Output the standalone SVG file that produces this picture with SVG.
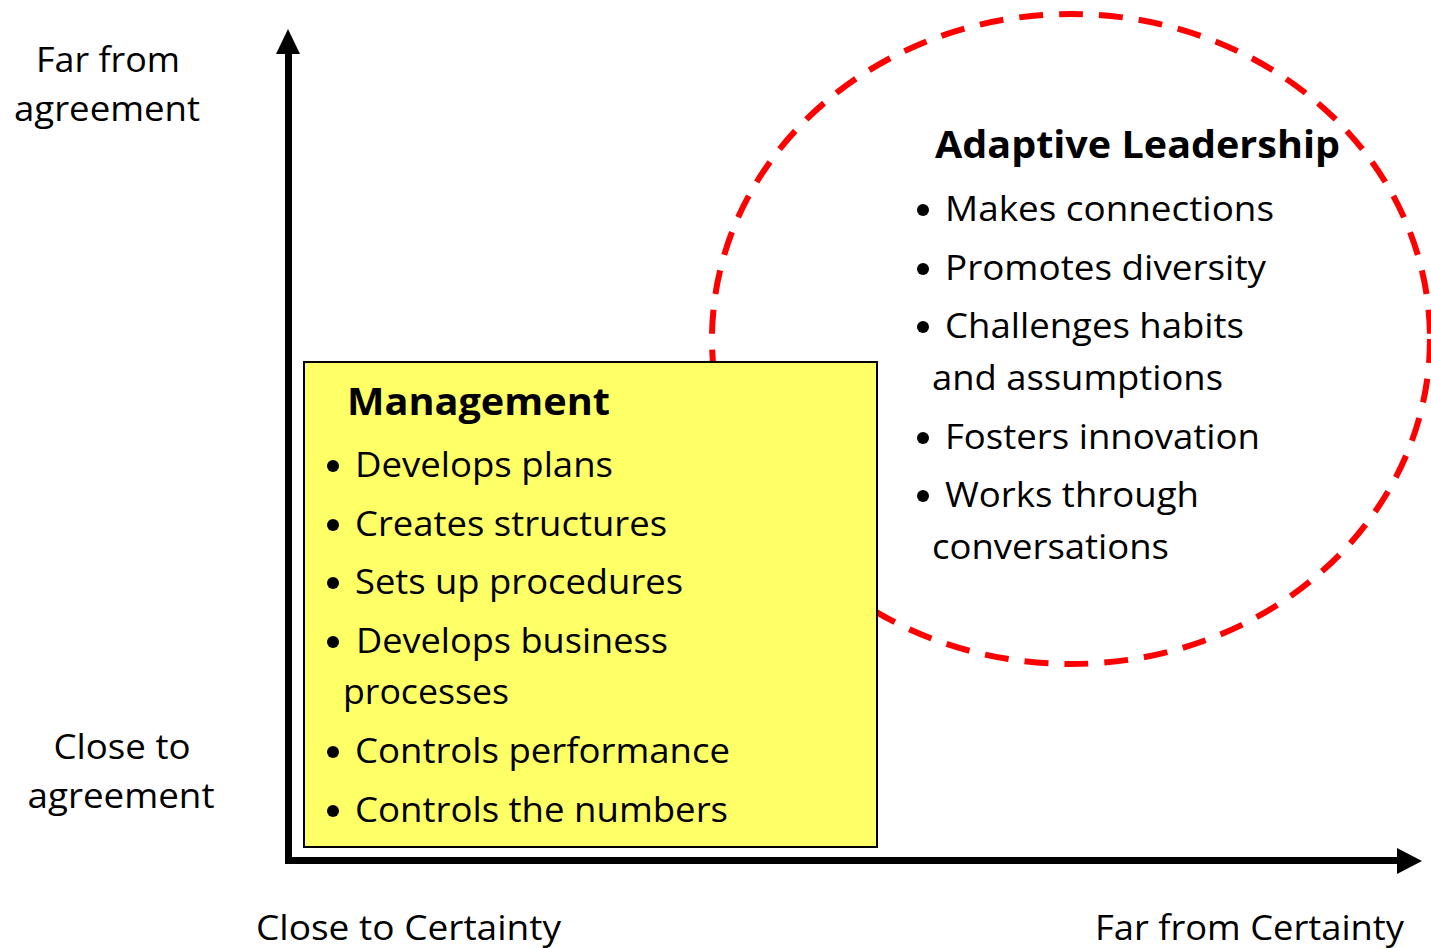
<svg xmlns="http://www.w3.org/2000/svg" width="1431" height="948" viewBox="0 0 1431 948">
  <style>
    .t { font-family: "Open Sans", "Noto Sans", "Liberation Sans", sans-serif; font-size: 35px; fill: #000; }
    .b { font-weight: bold; font-size: 37px; }
    .mid { text-anchor: middle; }
    .axis { stroke: #000; stroke-width: 7; fill: none; }
    .dot { fill: #000; }
  </style>

  <!-- adaptive leadership region (drawn first so the management box sits on top) -->
  <g id="adaptive-region">
    <ellipse cx="1071" cy="339" rx="359" ry="325" fill="none" stroke="#FF0000" stroke-width="6" stroke-dasharray="24 16"/>
  </g>

  <!-- axes -->
  <g id="axes">
    <line class="axis" x1="288.5" y1="864" x2="288.5" y2="50"/>
    <polygon points="288,29 276,54 300,54" fill="#000"/>
    <line class="axis" x1="285" y1="860.5" x2="1402" y2="860.5"/>
    <polygon points="1422,861 1397,848 1397,874" fill="#000"/>
  </g>

  <!-- axis labels -->
  <g id="label-far-agreement">
    <text class="t mid" x="108" y="72" textLength="144" lengthAdjust="spacingAndGlyphs">Far from</text>
    <text class="t mid" x="107" y="121" textLength="186" lengthAdjust="spacingAndGlyphs">agreement</text>
  </g>
  <g id="label-close-agreement">
    <text class="t mid" x="122" y="759" textLength="137" lengthAdjust="spacingAndGlyphs">Close to</text>
    <text class="t mid" x="121" y="808" textLength="187" lengthAdjust="spacingAndGlyphs">agreement</text>
  </g>
  <g id="label-close-certainty">
    <text class="t" x="256" y="940" textLength="305" lengthAdjust="spacingAndGlyphs">Close to Certainty</text>
  </g>
  <g id="label-far-certainty">
    <text class="t" x="1095" y="940" textLength="309" lengthAdjust="spacingAndGlyphs">Far from Certainty</text>
  </g>

  <!-- management box -->
  <g id="management">
    <rect x="304" y="362" width="573" height="485" fill="#FFFF66" stroke="#000" stroke-width="2"/>
    <text class="t b" x="347" y="415" textLength="263" lengthAdjust="spacingAndGlyphs">Management</text>
    <circle class="dot" cx="333" cy="466" r="6"/>
    <text class="t" x="355" y="477" textLength="258" lengthAdjust="spacingAndGlyphs">Develops plans</text>
    <circle class="dot" cx="333" cy="525" r="6"/>
    <text class="t" x="355" y="536" textLength="312" lengthAdjust="spacingAndGlyphs">Creates structures</text>
    <circle class="dot" cx="333" cy="583" r="6"/>
    <text class="t" x="355" y="594" textLength="328" lengthAdjust="spacingAndGlyphs">Sets up procedures</text>
    <circle class="dot" cx="333" cy="642" r="6"/>
    <text class="t" x="356" y="653" textLength="312" lengthAdjust="spacingAndGlyphs">Develops business</text>
    <text class="t" x="343" y="704" textLength="166" lengthAdjust="spacingAndGlyphs">processes</text>
    <circle class="dot" cx="333" cy="752" r="6"/>
    <text class="t" x="355" y="763" textLength="375" lengthAdjust="spacingAndGlyphs">Controls performance</text>
    <circle class="dot" cx="333" cy="811" r="6"/>
    <text class="t" x="355" y="822" textLength="373" lengthAdjust="spacingAndGlyphs">Controls the numbers</text>
  </g>

  <!-- adaptive leadership list -->
  <g id="adaptive-leadership">
    <text class="t b" x="935" y="158" textLength="405" lengthAdjust="spacingAndGlyphs">Adaptive Leadership</text>
    <circle class="dot" cx="923" cy="210" r="6"/>
    <text class="t" x="945" y="221" textLength="329" lengthAdjust="spacingAndGlyphs">Makes connections</text>
    <circle class="dot" cx="923" cy="269" r="6"/>
    <text class="t" x="945" y="280" textLength="321" lengthAdjust="spacingAndGlyphs">Promotes diversity</text>
    <circle class="dot" cx="923" cy="327" r="6"/>
    <text class="t" x="945" y="338" textLength="299" lengthAdjust="spacingAndGlyphs">Challenges habits</text>
    <text class="t" x="932" y="390" textLength="291" lengthAdjust="spacingAndGlyphs">and assumptions</text>
    <circle class="dot" cx="923" cy="438" r="6"/>
    <text class="t" x="945" y="449" textLength="315" lengthAdjust="spacingAndGlyphs">Fosters innovation</text>
    <circle class="dot" cx="923" cy="496" r="6"/>
    <text class="t" x="945" y="507" textLength="254" lengthAdjust="spacingAndGlyphs">Works through</text>
    <text class="t" x="932" y="559" textLength="237" lengthAdjust="spacingAndGlyphs">conversations</text>
  </g>
</svg>
